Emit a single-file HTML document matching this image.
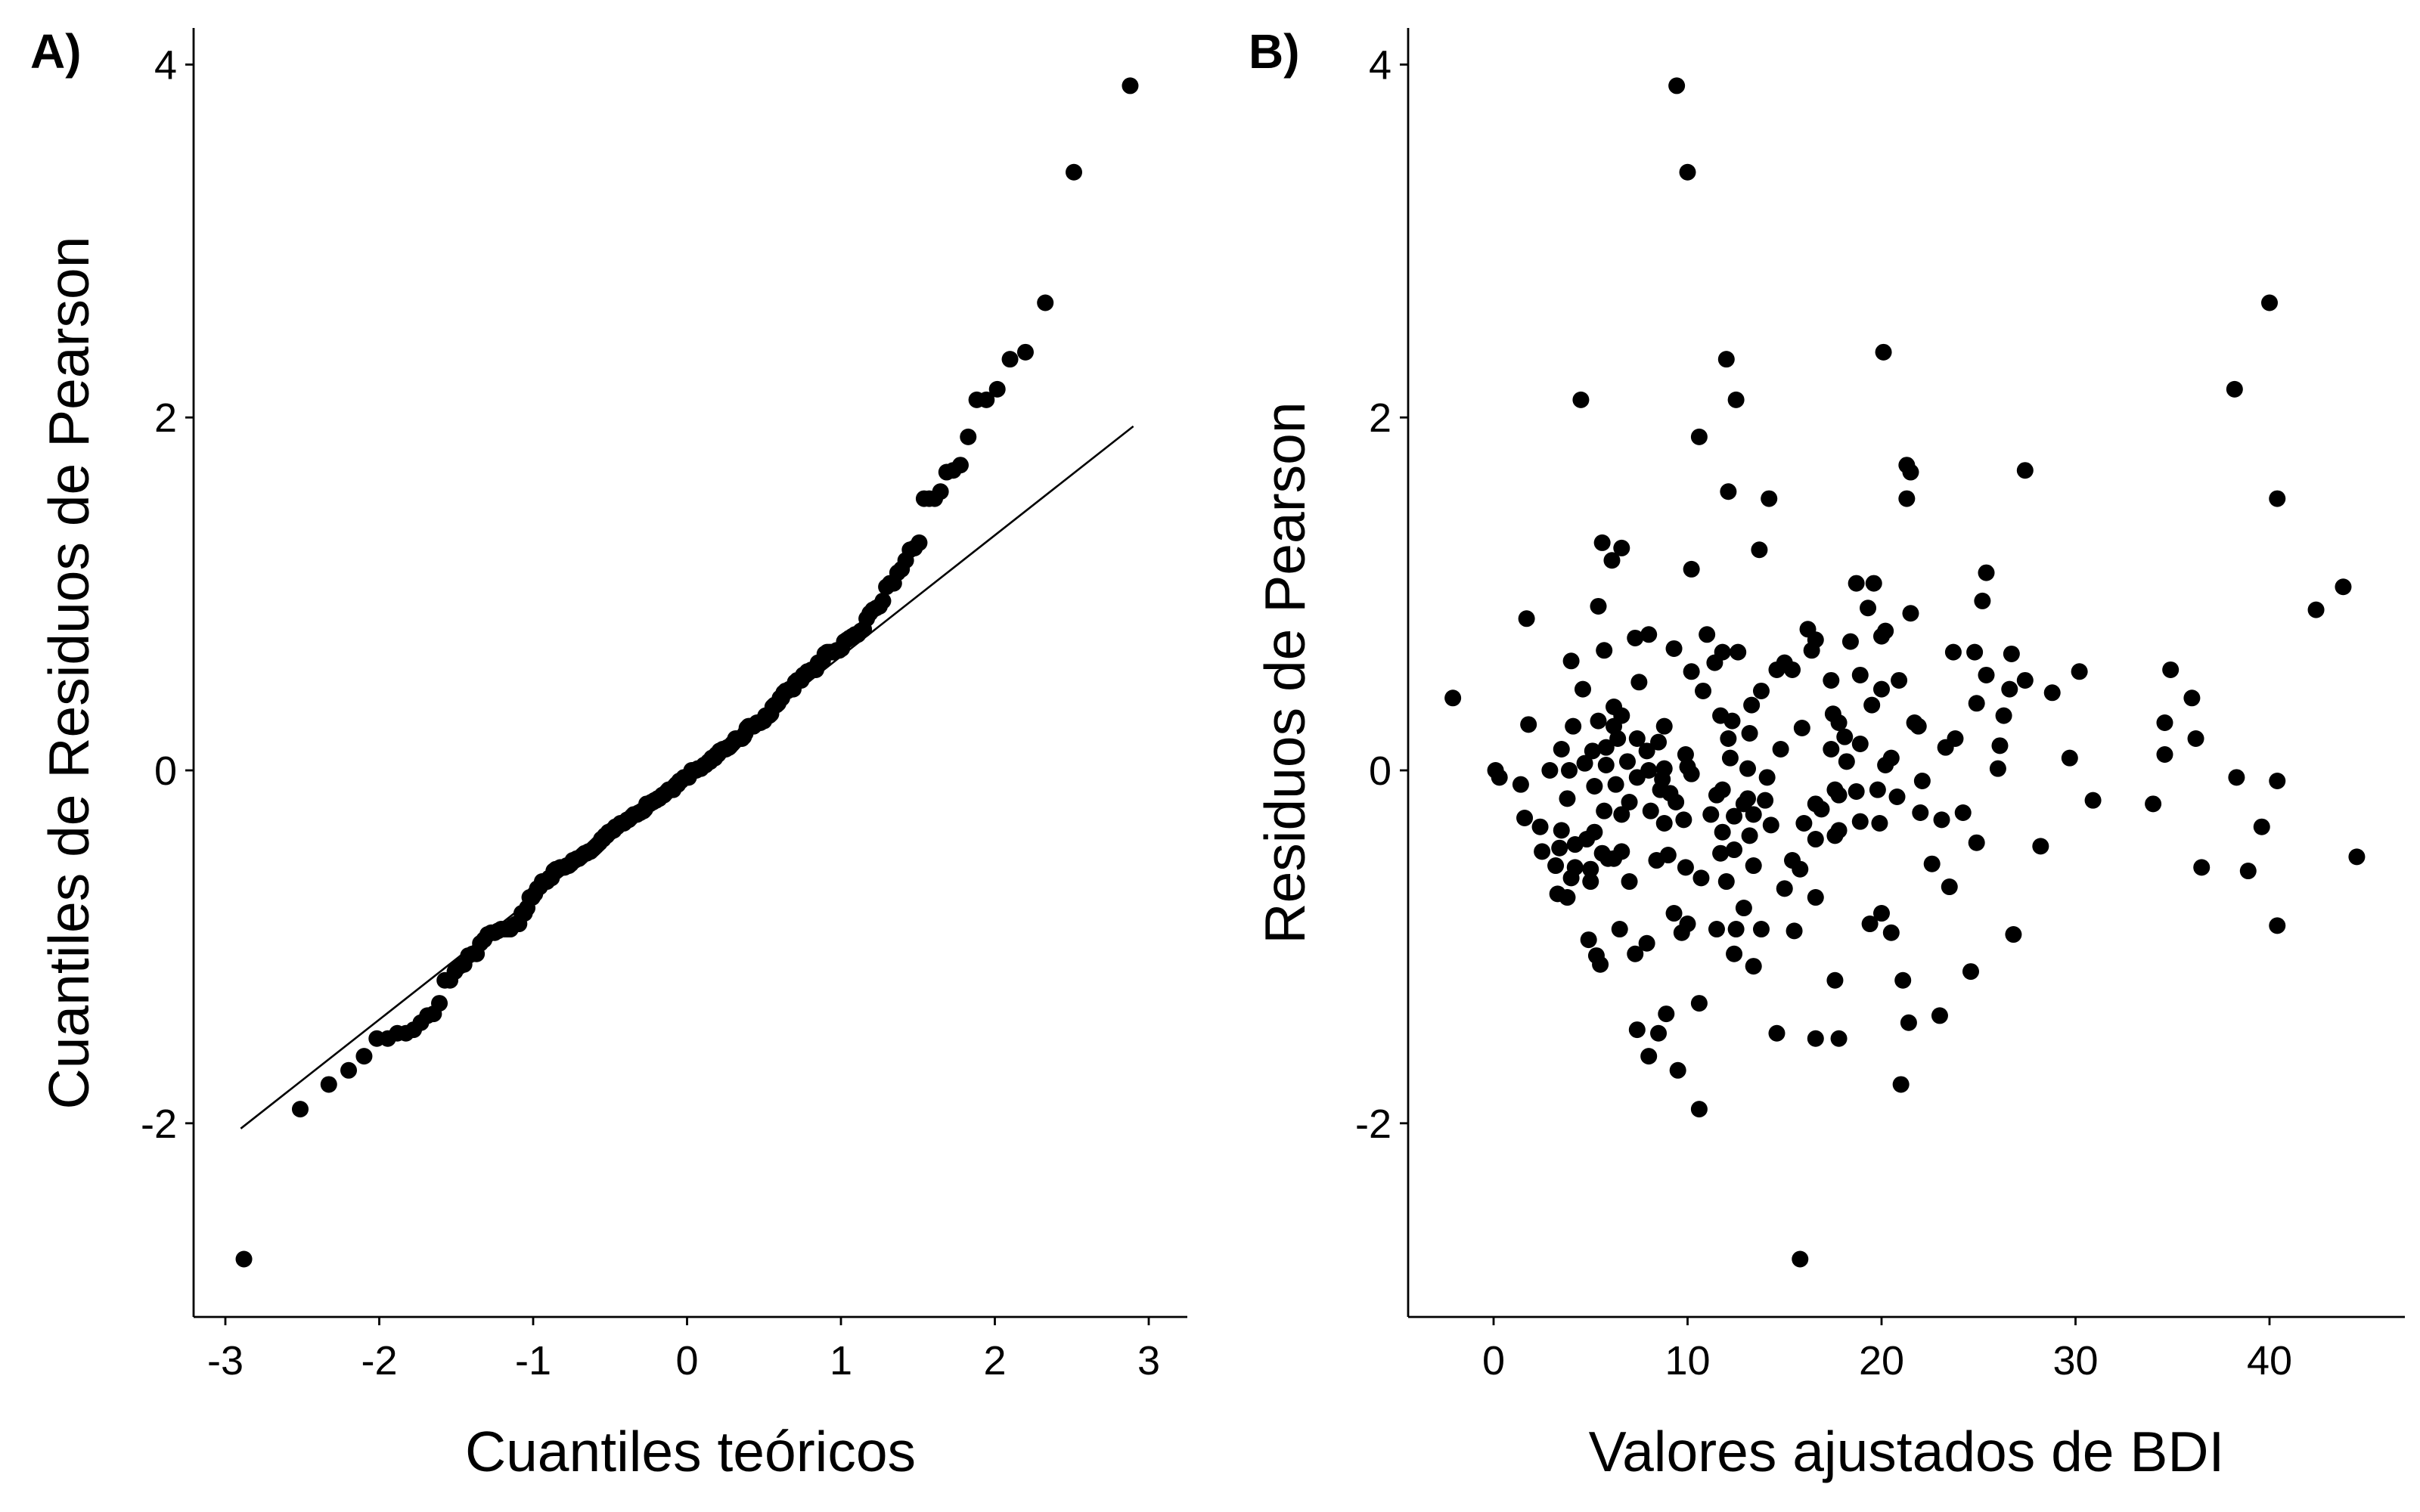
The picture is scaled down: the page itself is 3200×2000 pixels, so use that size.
<!DOCTYPE html>
<html><head><meta charset="utf-8"><style>
html,body{margin:0;padding:0;background:#fff;}
svg{display:block;}
text{font-family:"Liberation Sans",sans-serif;fill:#000;}
</style></head><body>
<svg id="chart" width="3200" height="2000" viewBox="0 0 3200 2000" xmlns="http://www.w3.org/2000/svg">
<rect width="3200" height="2000" fill="#fff"/>
<g id="panelA"></g>
<g id="panelB"></g>
</svg>
<script>
// Panel B data: fitted BDI values and Pearson residuals
const fitted = [9.44,10.0,40.0,20.1,12.0,38.2,4.5,12.5,10.6,21.3,21.5,27.4,12.1,21.3,14.2,40.4,5.6,6.6,6.1,13.7,10.2,25.4,18.7,19.6,43.8,42.4,25.2,5.4,1.7,19.3,21.5,16.2,11.0,20.0,8.0,7.3,16.6,18.4,20.2,9.3,11.8,12.6,5.7,16.4,23.7,24.8,26.7,4.0,11.4,15.0,14.6,30.2,34.9,10.2,15.4,18.9,25.4,20.9,27.4,7.5,17.4,4.6,20.0,13.8,26.6,10.8,28.8,-2.1,36.0,19.5,13.3,24.9,6.2,6.6,11.7,17.5,26.3,4.1,5.4,12.3,17.8,21.7,6.2,1.8,34.6,8.8,15.9,21.9,18.1,13.2,36.2,6.4,7.4,23.8,8.5,12.1,18.9,5.8,26.1,14.8,23.3,3.5,17.4,5.1,7.9,34.6,9.9,12.2,29.7,20.5,6.9,18.2,4.7,20.2,5.8,26.0,8.8,10.0,13.1,8.0,0.1,2.9,3.9,10.2,38.3,40.4,0.3,7.4,14.1,22.1,6.3,8.7,5.2,1.4,19.8,8.6,11.8,17.6,18.7,9.1,11.5,17.8,30.9,20.8,14.0,3.8,7.0,9.4,12.9,13.1,34.0,16.9,16.6,8.1,5.7,22.0,11.2,24.2,6.6,12.4,9.8,1.6,13.4,23.1,8.8,14.3,16.0,18.9,19.9,2.4,39.6,17.8,17.6,3.5,5.2,11.8,13.2,4.8,16.6,4.2,3.4,24.9,28.2,2.5,12.4,5.6,6.6,5.9,9.0,11.7,6.2,44.5,8.4,15.4,22.6,3.2,13.4,4.2,9.9,36.5,38.9,5.0,15.8,4.0,10.7,12.0,5.0,15.0,7.0,23.5,3.3,16.6,3.8,12.9,9.3,20.0,10.0,19.4,40.4,6.5,12.5,13.8,11.5,15.5,9.7,20.5,26.8,4.9,7.9,7.3,5.3,5.5,12.4,13.4,24.6,17.6,21.1,10.6,8.9,23.0,21.4,7.4,14.6,16.6,17.8,8.5,8.0,9.5,21.0,10.6,15.8];
const residuals = [3.88,3.39,2.65,2.37,2.33,2.16,2.10,2.10,1.89,1.73,1.69,1.70,1.58,1.54,1.54,1.54,1.29,1.26,1.19,1.25,1.14,1.12,1.06,1.06,1.04,0.91,0.96,0.93,0.86,0.92,0.89,0.80,0.77,0.76,0.77,0.75,0.74,0.73,0.79,0.69,0.67,0.67,0.68,0.68,0.67,0.67,0.66,0.62,0.61,0.61,0.57,0.56,0.57,0.56,0.57,0.54,0.54,0.51,0.51,0.50,0.51,0.46,0.46,0.45,0.46,0.45,0.44,0.41,0.41,0.37,0.37,0.38,0.36,0.31,0.31,0.32,0.31,0.25,0.28,0.28,0.27,0.27,0.25,0.26,0.27,0.25,0.24,0.25,0.19,0.21,0.18,0.18,0.18,0.18,0.16,0.18,0.15,0.13,0.14,0.12,0.13,0.12,0.12,0.11,0.11,0.09,0.09,0.07,0.07,0.07,0.05,0.05,0.04,0.03,0.03,0.01,0.01,0.02,0.01,0.0,0.0,0.0,0.0,-0.02,-0.04,-0.06,-0.04,-0.04,-0.04,-0.06,-0.08,-0.05,-0.09,-0.08,-0.11,-0.11,-0.11,-0.11,-0.12,-0.13,-0.14,-0.14,-0.17,-0.15,-0.17,-0.16,-0.18,-0.18,-0.19,-0.16,-0.19,-0.22,-0.19,-0.23,-0.23,-0.24,-0.25,-0.24,-0.25,-0.26,-0.28,-0.27,-0.25,-0.28,-0.30,-0.31,-0.30,-0.29,-0.30,-0.32,-0.32,-0.34,-0.37,-0.34,-0.35,-0.35,-0.37,-0.39,-0.39,-0.42,-0.44,-0.41,-0.43,-0.46,-0.45,-0.47,-0.46,-0.50,-0.48,-0.47,-0.50,-0.49,-0.51,-0.51,-0.53,-0.54,-0.54,-0.55,-0.55,-0.55,-0.57,-0.56,-0.56,-0.61,-0.61,-0.63,-0.63,-0.67,-0.63,-0.66,-0.70,-0.72,-0.72,-0.78,-0.81,-0.81,-0.87,-0.87,-0.88,-0.90,-0.90,-0.90,-0.90,-0.91,-0.92,-0.92,-0.93,-0.96,-0.98,-1.04,-1.05,-1.10,-1.04,-1.11,-1.14,-1.19,-1.19,-1.32,-1.38,-1.39,-1.43,-1.47,-1.49,-1.52,-1.52,-1.49,-1.62,-1.70,-1.78,-1.92,-2.77];
// Panel A reference line (qqline) endpoints
const qqLineX = [-2.9, 2.9];
const qqLineY = [-2.03, 1.95];
// Tick labels
const xTicksA = [-3,-2,-1,0,1,2,3];
const xTicksB = [0,10,20,30,40];
const yTicks = [-2,0,2,4];

const NS = "http://www.w3.org/2000/svg";
function mk(parent, tag, attrs, txt){
  const e = document.createElementNS(NS, tag);
  for (const k in attrs) e.setAttribute(k, attrs[k]);
  if (txt !== undefined) e.textContent = txt;
  parent.appendChild(e);
  return e;
}
function qnorm(p){
  const a=[-39.69683028665376,220.9460984245205,-275.9285104469687,138.3577518672690,-30.66479806614716,2.506628277459239];
  const b=[-54.47609879822406,161.5858368580409,-155.6989798598866,66.80131188771972,-13.28068155288572];
  const c=[-0.007784894002430293,-0.3223964580411365,-2.400758277161838,-2.549732539343734,4.374664141464968,2.938163982698783];
  const d=[0.007784695709041462,0.3224671290700398,2.445134137142996,3.754408661907416];
  const pl=0.02425;
  let q,r;
  if(p<pl){q=Math.sqrt(-2*Math.log(p));return (((((c[0]*q+c[1])*q+c[2])*q+c[3])*q+c[4])*q+c[5])/((((d[0]*q+d[1])*q+d[2])*q+d[3])*q+1);}
  if(p>1-pl){q=Math.sqrt(-2*Math.log(1-p));return -(((((c[0]*q+c[1])*q+c[2])*q+c[3])*q+c[4])*q+c[5])/((((d[0]*q+d[1])*q+d[2])*q+d[3])*q+1);}
  q=p-0.5;r=q*q;
  return (((((a[0]*r+a[1])*r+a[2])*r+a[3])*r+a[4])*r+a[5])*q/(((((b[0]*r+b[1])*r+b[2])*r+b[3])*r+b[4])*r+1);
}

const yScale = v => 1019 - v*233.4;
const xScaleA = v => 908.5 + v*203.5;
const xScaleB = v => 1975 + v*25.65;
const axisTop = 37, axisBottom = 1742;
const R = 11;

function drawAxes(g, axX0, axX1, xTicks, xs, xTitle, yTitle, yTitleX, label, labelX){
  let e;
  e = mk(g,'line',{x1:axX0,y1:axisTop,x2:axX0,y2:axisBottom,stroke:'#000','stroke-width':2.8});
  
  
  e = mk(g,'line',{x1:axX0,y1:axisBottom,x2:axX1,y2:axisBottom,stroke:'#000','stroke-width':2.8});
  
  
  yTicks.forEach(t=>{
    const y = yScale(t);
    let m = mk(g,'line',{x1:axX0-11,y1:y,x2:axX0,y2:y,stroke:'#000','stroke-width':2.8});
    
    
    let tx = mk(g,'text',{x:axX0-22,y:y+19,'text-anchor':'end','font-size':54,fill:'#111'}, String(t));
    
    
  });
  xTicks.forEach(t=>{
    const x = xs(t);
    let m = mk(g,'line',{x1:x,y1:axisBottom,x2:x,y2:axisBottom+11,stroke:'#000','stroke-width':2.8});
    
    
    let tx = mk(g,'text',{x:x,y:axisBottom+76,'text-anchor':'middle','font-size':54,fill:'#111'}, String(t));
    
    
  });
  e = mk(g,'text',{x:(axX0+axX1)/2,y:1946,'text-anchor':'middle','font-size':75}, xTitle);
  
  
  e = mk(g,'text',{x:0,y:0,'text-anchor':'middle','font-size':75,transform:`translate(${yTitleX},890) rotate(-90)`}, yTitle);
  
  
  e = mk(g,'text',{x:labelX,y:90,'font-size':64,'font-weight':'bold'}, label);
  
  
}

// Panel A
const gA = document.getElementById('panelA');
drawAxes(gA, 256, 1570, xTicksA, xScaleA, 'Cuantiles teóricos', 'Cuantiles de Residuos de Pearson', 117, 'A)', 40);
const sorted = residuals.slice().sort((a,b)=>a-b);
const n = sorted.length;
let ql = mk(gA,'line',{x1:xScaleA(qqLineX[0]),y1:yScale(qqLineY[0]),x2:xScaleA(qqLineX[1]),y2:yScale(qqLineY[1]),stroke:'#000','stroke-width':2.6});


sorted.forEach((v,i)=>{
  const q = qnorm((i+0.5)/n);
  const c = mk(gA,'circle',{cx:xScaleA(q),cy:yScale(v),r:R,fill:'#000'});
  
  
});

// Panel B
const gB = document.getElementById('panelB');
drawAxes(gB, 1862, 3180, xTicksB, xScaleB, 'Valores ajustados de BDI', 'Residuos de Pearson', 1725, 'B)', 1651);
fitted.forEach((f,i)=>{
  const c = mk(gB,'circle',{cx:xScaleB(f),cy:yScale(residuals[i]),r:R,fill:'#000'});
  
  
});
</script>
</body></html>
